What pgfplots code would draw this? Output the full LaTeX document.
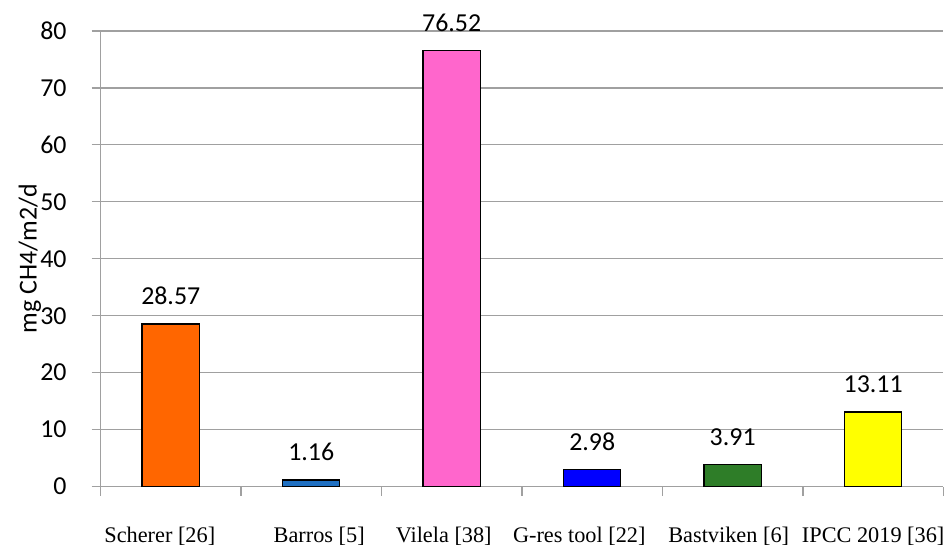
\documentclass[border=0pt]{standalone}
\usepackage{pgfplots}
\pgfplotsset{compat=1.18}
\usepackage{fontspec}
\setmainfont{Carlito}
\newfontfamily\labfont{Liberation Serif}

\definecolor{gridgray}{RGB}{160,160,160}
\definecolor{cOrange}{RGB}{255,102,0}
\definecolor{cBlueA}{RGB}{31,112,194}
\definecolor{cPink}{RGB}{255,102,204}
\definecolor{cBlue}{RGB}{0,0,255}
\definecolor{cGreen}{RGB}{46,125,40}
\definecolor{cYellow}{RGB}{255,255,0}

\begin{document}
\begin{tikzpicture}
	\begin{axis}[%
			width=423.5pt,
			height=229pt,
			scale only axis,
			axis x line*=bottom,
			axis y line*=left,
			axis line style={draw=gridgray, line width=0.7pt},
			xmin=-0.5, xmax=5.5,
			ymin=0, ymax=80,
			ytick={0,10,...,80},
			xtick={0,...,5},
			% labels sit a little off the category centres in the original
			xticklabels={\kern-11pt Scherer [26], \kern8pt Barros [5], \kern-8pt Vilela [38],
				\kern-13pt G-res tool [22], \kern-4pt Bastviken [6], IPCC 2019 [36]},
			minor xtick={-0.5,0.5,...,5.5},
			major x tick style={draw=none},
			tick align=outside,
			major tick length=4.5pt,
			minor tick length=4.5pt,
			tick style={draw=gridgray, line width=0.7pt},
			ymajorgrids,
			grid style={draw=gridgray, line width=0.7pt},
			/pgf/number format/assume math mode=true,
			yticklabel style={font=\fontsize{13}{15}\selectfont, xshift=-9pt},
			xticklabel style={font=\labfont\fontsize{11.2}{13}\selectfont, anchor=base, yshift=-23.8pt},
			ylabel={mg CH4/m2/d},
			ylabel style={font=\fontsize{13}{15}\selectfont, at={(axis description cs:-0.0838,0.5)}, anchor=center},
			ybar, bar shift=0pt, bar width=28.7pt,
			nodes near coords,
			nodes near coords style={font=\fontsize{13}{15}\selectfont, anchor=base, yshift=9.6pt},
			every node near coord/.append style={/pgf/number format/fixed, /pgf/number format/precision=2, /pgf/number format/fixed zerofill},
		]
		\coordinate (o) at (rel axis cs:0,0);
		\addplot[fill=cOrange, draw=black, line width=0.7pt] coordinates {(0,28.57)};
		\addplot[fill=cBlueA, draw=black, line width=0.7pt] coordinates {(1,1.16)};
		\addplot[fill=cPink, draw=black, line width=0.7pt] coordinates {(2,76.52)};
		\addplot[fill=cBlue, draw=black, line width=0.7pt] coordinates {(3,2.98)};
		\addplot[fill=cGreen, draw=black, line width=0.7pt] coordinates {(4,3.91)};
		\addplot[fill=cYellow, draw=black, line width=0.7pt] coordinates {(5,13.11)};
	\end{axis}
	\path (o) ++(-50.5pt,-25.5pt) rectangle ++(475.5pt,270pt);
\end{tikzpicture}
\end{document}
